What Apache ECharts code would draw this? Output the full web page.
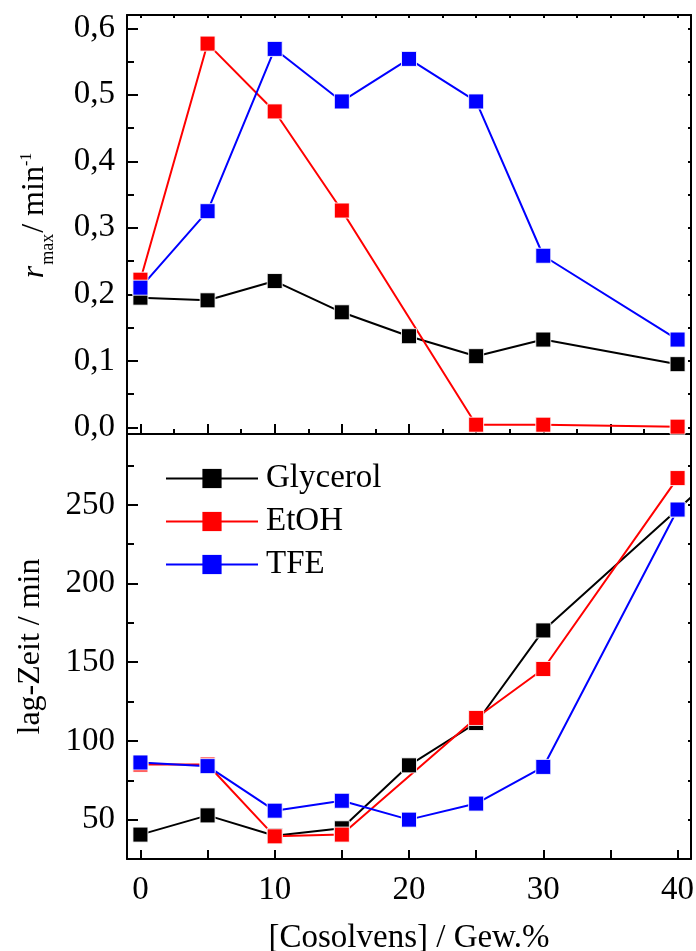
<!DOCTYPE html>
<html>
<head>
<meta charset="utf-8">
<script src="https://cdn.jsdelivr.net/npm/echarts@6/dist/echarts.min.js"></script>
<style>
  html, body { margin: 0; padding: 0; background: #fff; }
  #chart { width: 696px; height: 951px; }
</style>
</head>
<body>
<div id="chart"></div>
<script>
// Cosolvent concentration, wt.%
const conc = [0, 5, 10, 15, 20, 25, 30, 40];
const concEtOH = [0, 5, 10, 15, 25, 30, 40];
const concGlycerolLag = [0, 5, 10, 15, 20, 25, 30, 40, 50];

// Maximum rate r_max / min^-1
const rmaxGlycerol = [0.195, 0.191, 0.220, 0.173, 0.137, 0.107, 0.132, 0.095];
const rmaxEtOH     = [0.222, 0.577, 0.475, 0.326, 0.004, 0.004, 0.001];
const rmaxTFE      = [0.210, 0.325, 0.569, 0.490, 0.554, 0.490, 0.258, 0.132];

// Lag time / min
const lagGlycerol = [40.5, 52.7, 39.8, 44.5, 84.5, 111.4, 170.2, 247, 325];
const lagEtOH     = [85, 85, 39.4, 40.5, 114.6, 145.7, 267];
const lagTFE      = [86.3, 84, 55.7, 62, 50, 60.2, 83.5, 247];

// Tick positions
const xLabelTicks = [0, 10, 20, 30, 40];
const xMajorTicks = [0, 5, 10, 15, 20, 25, 30, 35, 40];
const xMinorTicks = [2.5, 7.5, 12.5, 17.5, 22.5, 27.5, 32.5, 37.5];
const rTicks = [0, 0.1, 0.2, 0.3, 0.4, 0.5, 0.6];
const rMinorTicks = [0.05, 0.15, 0.25, 0.35, 0.45, 0.55];
const lagTicks = [50, 100, 150, 200, 250];
const lagMinorTicks = [75, 125, 175, 225, 275];
const lagRightTicks = [50, 75, 100, 125, 150, 175, 200, 225, 250, 275];

const seriesNames = ['Glycerol', 'EtOH', 'TFE'];
const colors = ['#000000', '#ff0000', '#0000ff'];

const FONT = 'Liberation Serif, Times New Roman, serif';
const X_RANGE = { min: -1, max: 41 };
const R_RANGE = { min: -0.01, max: 0.62 };
const LAG_RANGE = { min: 25, max: 295 };

const pairs = (xs, ys) => xs.map((x, i) => [x, ys[i]]);

const frameLine = { show: true, onZero: false, lineStyle: { color: '#000', width: 2 } };
const hiddenLine = { show: false, onZero: false };

function axis(extra) {
  return Object.assign({
    type: 'value',
    splitLine: { show: false },
    axisLine: frameLine,
    axisTick: { show: false },
    axisLabel: { show: false }
  }, extra);
}
function ticks(values, len, width) {
  return { show: true, inside: true, length: len, customValues: values,
           lineStyle: { color: '#000', width: width || 2 } };
}

const xAxes = [
  // upper panel, bottom edge (major ticks) — data axis
  axis(Object.assign({ gridIndex: 0, position: 'bottom', axisTick: ticks(xMajorTicks, 10) }, X_RANGE)),
  axis(Object.assign({ gridIndex: 0, position: 'bottom', axisLine: hiddenLine, axisTick: ticks(xMinorTicks, 5) }, X_RANGE)),
  axis(Object.assign({ gridIndex: 0, position: 'top', axisTick: ticks(xMajorTicks.concat(xMinorTicks), 3) }, X_RANGE)),
  // lower panel, bottom edge — data axis with labels and title
  axis(Object.assign({
    gridIndex: 1, position: 'bottom',
    axisTick: ticks(xMajorTicks, 9),
    axisLabel: { show: true, customValues: xLabelTicks, margin: 15,
                 fontFamily: FONT, fontSize: 33, color: '#000' },
    name: '[Cosolvens] / Gew.%', nameLocation: 'middle', nameGap: 63,
    nameTextStyle: { fontFamily: FONT, fontSize: 33, color: '#000' }
  }, X_RANGE))
];

const yAxes = [
  // upper panel: r_max
  axis(Object.assign({
    gridIndex: 0, position: 'left',
    axisTick: ticks(rTicks, 11),
    axisLabel: { show: true, customValues: rTicks, margin: 12,
                 fontFamily: FONT, fontSize: 33, color: '#000',
                 formatter: v => v.toFixed(1).replace('.', ',') },
    name: '{i|r}{sub|max}{t|/ min}{sup|-1}', nameLocation: 'middle', nameGap: 76,
    nameTextStyle: {
      fontFamily: FONT, fontSize: 32, color: '#000',
      rich: {
        i: { fontFamily: FONT, fontSize: 32, lineHeight: 32, fontStyle: 'italic', color: '#000',
             verticalAlign: 'top', padding: [0, 0, 0, 18] },
        sub: { fontFamily: FONT, fontSize: 18, lineHeight: 18, color: '#000',
               verticalAlign: 'top', padding: [20, 1, 0, 1] },
        t: { fontFamily: FONT, fontSize: 32, lineHeight: 32, color: '#000', verticalAlign: 'top' },
        sup: { fontFamily: FONT, fontSize: 16, lineHeight: 16, color: '#000', verticalAlign: 'top' }
      }
    }
  }, R_RANGE)),
  axis(Object.assign({ gridIndex: 0, position: 'left', axisLine: hiddenLine, axisTick: ticks(rMinorTicks, 7) }, R_RANGE)),
  axis(Object.assign({ gridIndex: 0, position: 'right', axisTick: ticks(rTicks.concat(rMinorTicks), 3) }, R_RANGE)),
  // lower panel: lag time
  axis(Object.assign({
    gridIndex: 1, position: 'left',
    axisTick: ticks(lagTicks, 11),
    axisLabel: { show: true, customValues: lagTicks, margin: 12,
                 fontFamily: FONT, fontSize: 33, color: '#000' },
    name: 'lag-Zeit / min', nameLocation: 'middle', nameGap: 80,
    nameTextStyle: { fontFamily: FONT, fontSize: 32, color: '#000' }
  }, LAG_RANGE)),
  axis(Object.assign({ gridIndex: 1, position: 'left', axisLine: hiddenLine, axisTick: ticks(lagMinorTicks, 7) }, LAG_RANGE)),
  axis(Object.assign({ gridIndex: 1, position: 'right', axisTick: ticks(lagRightTicks, 3) }, LAG_RANGE))
];

function lineSeries(name, color, data, xi, yi) {
  return {
    type: 'line', name: name, data: data,
    xAxisIndex: xi, yAxisIndex: yi,
    symbol: 'rect', symbolSize: 15,
    clip: true,
    lineStyle: { color: color, width: 2 },
    itemStyle: { color: color, borderColor: 'rgba(255,255,255,0.85)', borderWidth: 1 },
    emphasis: { disabled: true }
  };
}

const series = [
  lineSeries('Glycerol', colors[0], pairs(conc, rmaxGlycerol), 0, 0),
  lineSeries('EtOH',     colors[1], pairs(concEtOH, rmaxEtOH), 0, 0),
  lineSeries('TFE',      colors[2], pairs(conc, rmaxTFE), 0, 0),
  lineSeries('Glycerol', colors[0], pairs(concGlycerolLag, lagGlycerol), 3, 3),
  lineSeries('EtOH',     colors[1], pairs(concEtOH, lagEtOH), 3, 3),
  lineSeries('TFE',      colors[2], pairs(conc, lagTFE), 3, 3)
];

const chart = echarts.init(document.getElementById('chart'), null, { renderer: 'canvas' });
chart.setOption({
  animation: false,
  backgroundColor: '#fff',
  grid: [
    { left: 127, right: 5, top: 15, height: 419, outerBoundsMode: 'none', containLabel: false },
    { left: 127, right: 5, top: 434, height: 425, outerBoundsMode: 'none', containLabel: false }
  ],
  xAxis: xAxes,
  yAxis: yAxes,
  legend: {
    data: seriesNames,
    orient: 'vertical',
    left: 165, top: 462, padding: 0,
    itemWidth: 92, itemHeight: 24, itemGap: 10,
    selectedMode: false,
    lineStyle: { width: 2 },
    itemStyle: { borderWidth: 0 },
    textStyle: { fontFamily: FONT, fontSize: 33, color: '#000', lineHeight: 32, padding: [0, 0, 0, 3] }
  },
  series: series
});
</script>
</body>
</html>
